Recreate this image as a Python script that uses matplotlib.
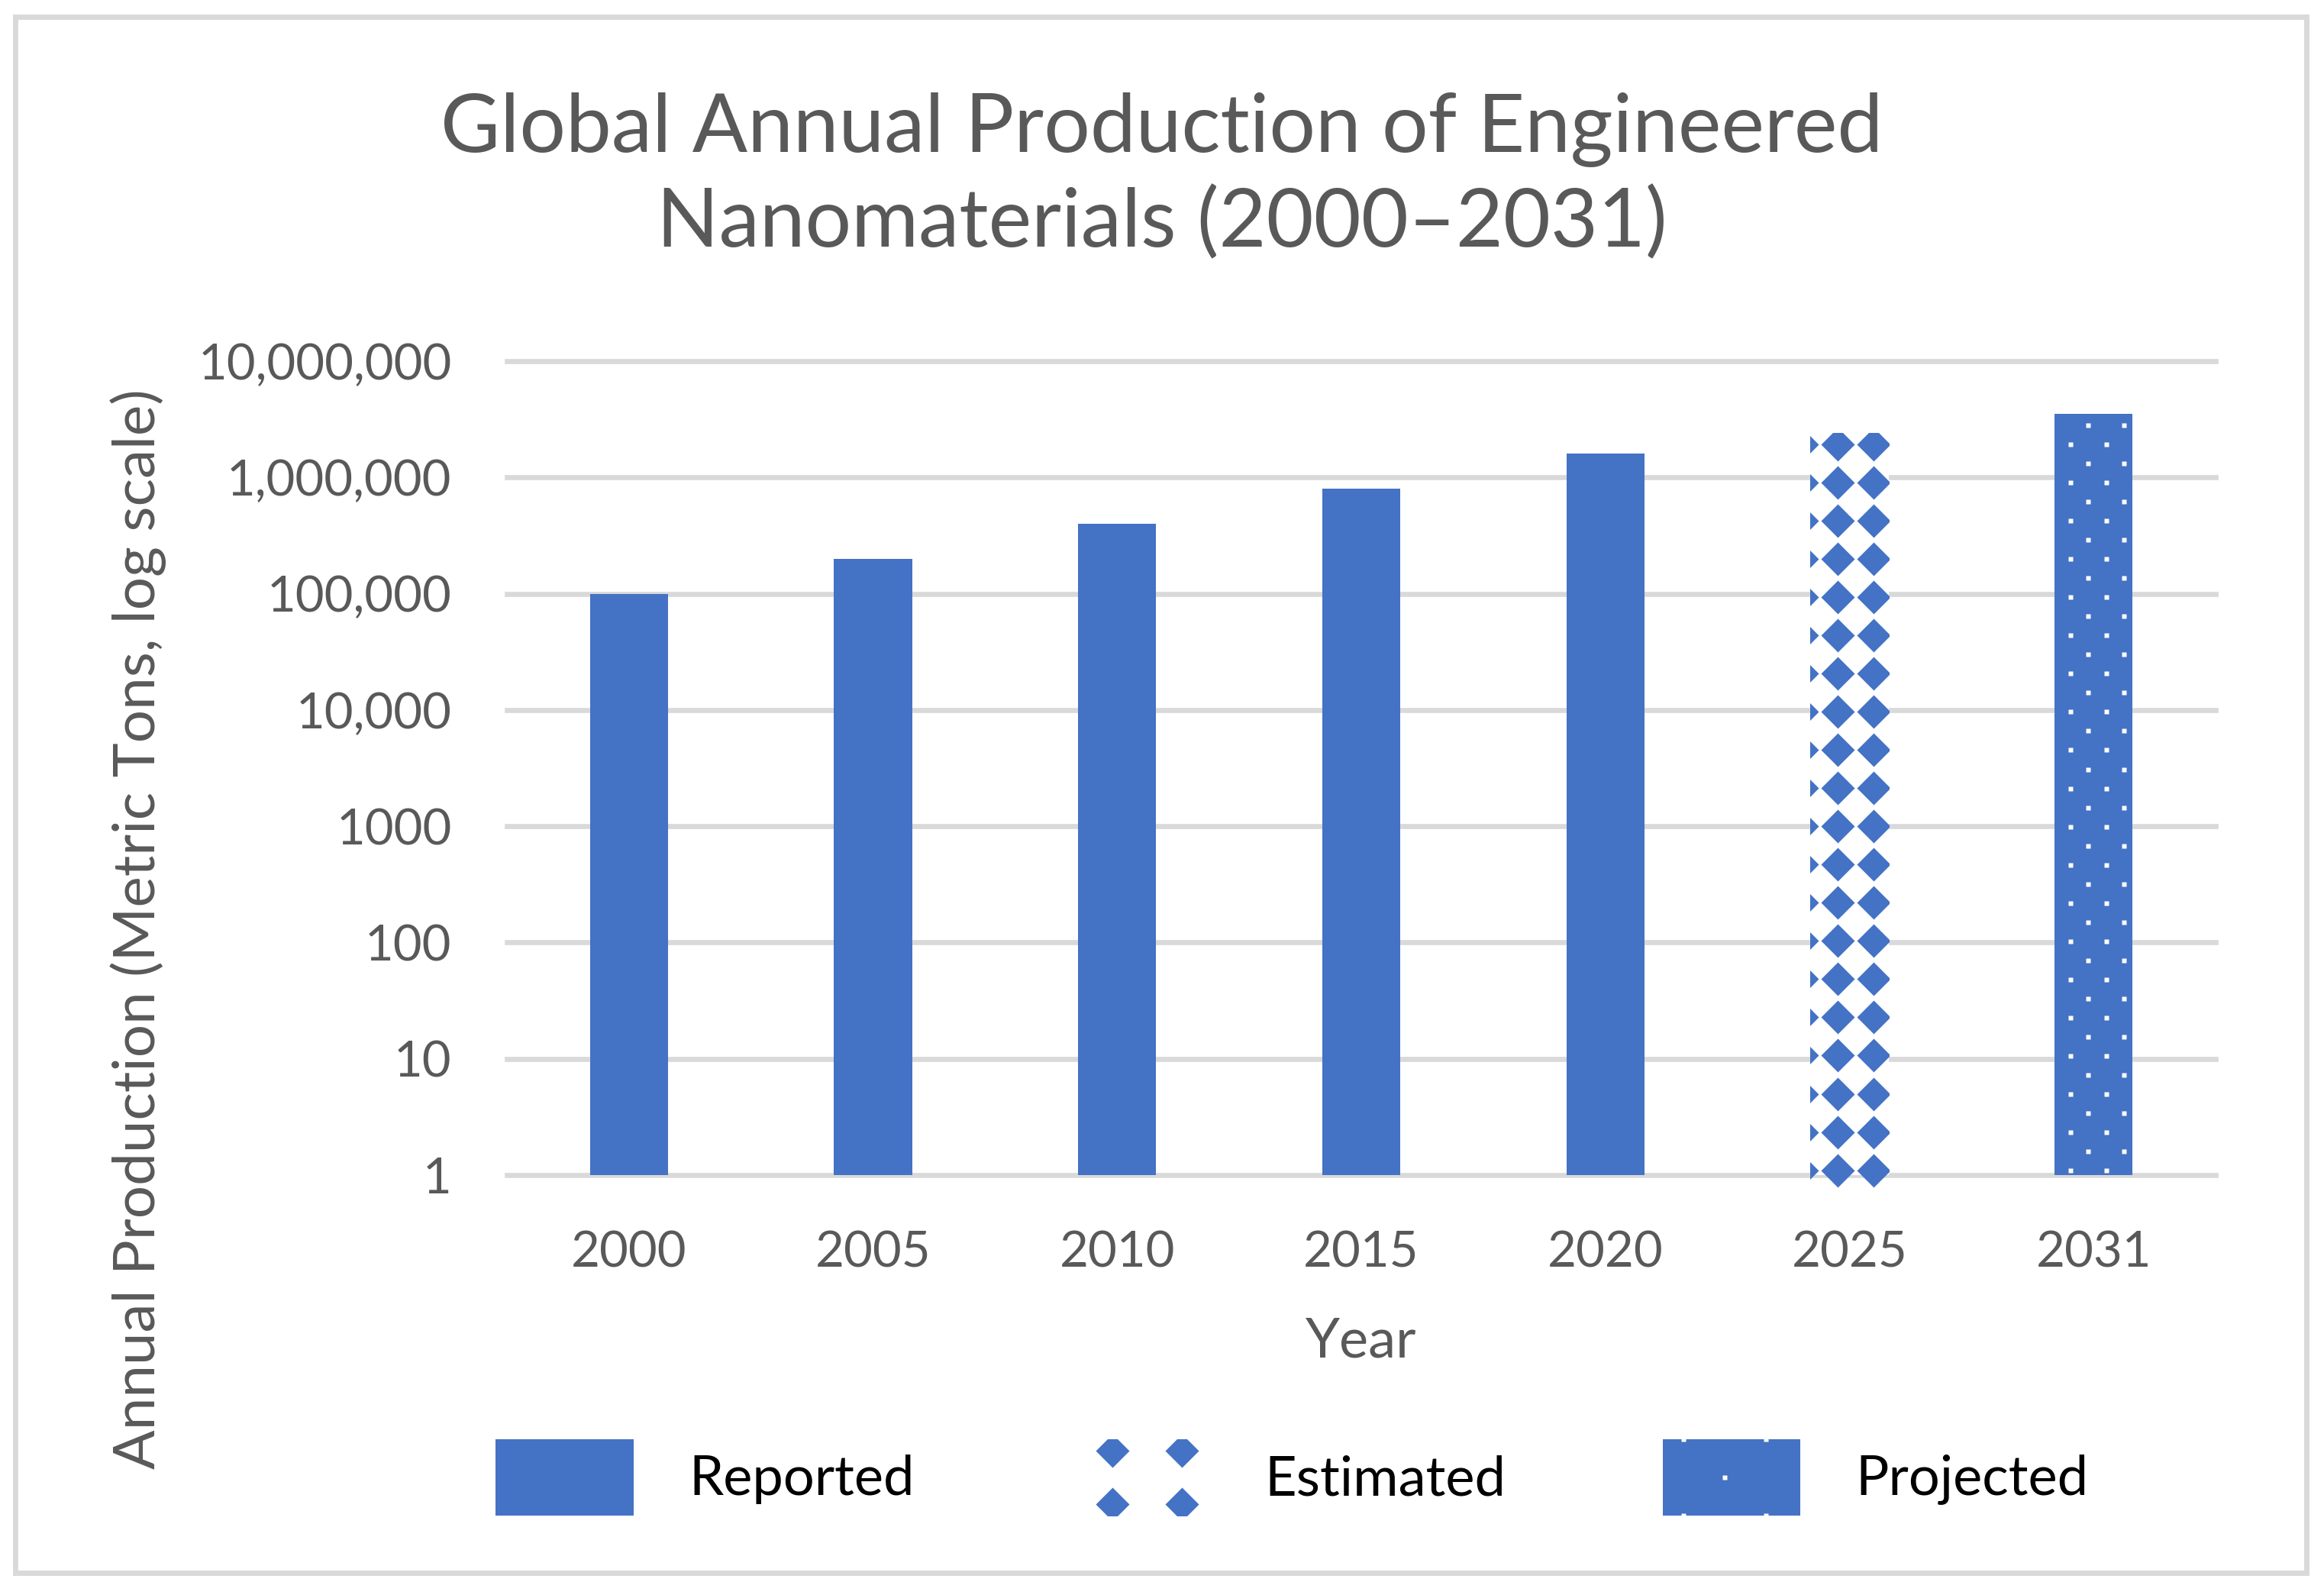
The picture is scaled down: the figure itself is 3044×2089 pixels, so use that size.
import numpy as np
import matplotlib.pyplot as plt
from matplotlib.patches import Patch, Rectangle
from matplotlib.lines import Line2D
from matplotlib.legend_handler import HandlerPatch
from matplotlib.ticker import NullLocator

years = ['2000', '2005', '2010', '2015', '2020', '2025', '2031']
production = [100000, 200000, 400000, 800000, 1600000, 2400000, 3500000]
status = ['Reported', 'Reported', 'Reported', 'Reported', 'Reported', 'Estimated', 'Projected']
ytick_values = [1, 10, 100, 1000, 10000, 100000, 1000000, 10000000]
ytick_labels = ['1', '10', '100', '1000', '10,000', '100,000', '1,000,000', '10,000,000']

blue = '#4472C4'
grey_text = '#595959'
grid_grey = '#D9D9D9'

plt.rcParams['font.family'] = ['Lato', 'DejaVu Sans']


class TextureHandler(HandlerPatch):
    # legend box with a few pattern marks clipped to it
    def __init__(self, face, dots, marker, ms, dot_color):
        super().__init__()
        self.face = face
        self.dots = dots
        self.marker = marker
        self.ms = ms
        self.dot_color = dot_color

    def create_artists(self, legend, orig_handle, xdescent, ydescent,
                       width, height, fontsize, trans):
        box = Rectangle((-xdescent, -ydescent), width, height,
                        facecolor=self.face, edgecolor='none', transform=trans)
        xs = [-xdescent + fx * width for fx, fy in self.dots]
        ys = [-ydescent + fy * height for fx, fy in self.dots]
        pts = Line2D(xs, ys, ls='none', marker=self.marker, ms=self.ms,
                     mfc=self.dot_color, mec='none', transform=trans)
        pts.set_clip_path(box)
        return [box, pts]


def add_texture(ax, bar, rows, marker, ms, color):
    # rows: list of (log10 y, x offsets from bar centre)
    xc = bar.get_x() + bar.get_width() / 2
    xs, ys = [], []
    for lg, offs in rows:
        for o in offs:
            xs.append(xc + o)
            ys.append(10 ** lg)
    ln, = ax.plot(xs, ys, ls='none', marker=marker, ms=ms, mfc=color,
                  mec='none', zorder=3)
    ln.set_clip_path(bar)


fig = plt.figure(figsize=(15.22, 10.445), dpi=200)
ax = fig.add_axes([0.2181, 0.2633, 0.7353, 0.5103])
ax.set_yscale('log')

x = np.arange(len(years))
bars = ax.bar(x, production, width=0.32, color=blue, zorder=2)

for b, s in zip(bars, status):
    if s == 'Estimated':
        b.set_facecolor('white')
        rows = [(6.287 - 0.3287 * k, [-0.197, -0.050, 0.097]) for k in range(20)]
        add_texture(ax, b, rows, 'D', 11.0, blue)
    elif s == 'Projected':
        rows = []
        for k in range(40):
            offs = [-0.022, 0.125] if k % 2 == 0 else [-0.094, 0.053]
            rows.append((6.449 - 0.1644 * k, offs))
        add_texture(ax, b, rows, 's', 2.2, 'white')

ax.set_xlim(-0.5, len(years) - 0.5)
ax.set_ylim(1, 1e7)
ax.set_xticks(x, years)
ax.set_yticks(ytick_values, ytick_labels)
ax.yaxis.set_minor_locator(NullLocator())
ax.tick_params(length=0, pad=26, labelsize=23.5, colors=grey_text)
ax.grid(axis='y', color=grid_grey, lw=2.4)
ax.set_axisbelow(True)
for gl in ax.get_ygridlines():
    gl.set_clip_on(False)
for sp in ax.spines.values():
    sp.set_visible(False)

ax.set_xlabel('Year', fontsize=26, color=grey_text, va='center')
ax.xaxis.set_label_coords(0.5, -0.2045)
ax.set_ylabel('Annual Production (Metric Tons, log scale)', fontsize=27.5,
              color=grey_text, va='center', ha='center')
ax.yaxis.set_label_coords(-0.2158, 0.302)

fig.suptitle('Global Annual Production of Engineered\nNanomaterials (2000\u20132031)',
             x=0.5, y=0.8894, va='center', fontsize=38.5, color=grey_text,
             linespacing=1.3)

handles = [Patch(facecolor=blue), Patch(facecolor='white'), Patch(facecolor=blue)]
hmap = {
    handles[1]: TextureHandler('white', [(0.3, 0.15), (0.8, 0.15), (0.3, 0.85), (0.8, 0.85)],
                               'D', 11.0, blue),
    handles[2]: TextureHandler(blue, [(0.45, 0.5), (0.15, 0.0), (0.75, 0.0),
                                      (0.15, 1.0), (0.75, 1.0)], 's', 2.2, 'white'),
}
fig.legend(handles, ['Reported', 'Estimated', 'Projected'], handler_map=hmap,
           loc='center', bbox_to_anchor=(0.556, 0.0737), ncol=3, frameon=False,
           fontsize=26, handlelength=2.5, handleheight=1.75, handletextpad=1.0,
           columnspacing=2.85, labelcolor='black')

fig.add_artist(Rectangle((20 / 3044, 1 - 2060 / 2089), (3021 - 20) / 3044,
                         (2060 - 22) / 2089, transform=fig.transFigure,
                         fill=False, ec=grid_grey, lw=2.5))

fig.savefig('out.png', dpi=200)
